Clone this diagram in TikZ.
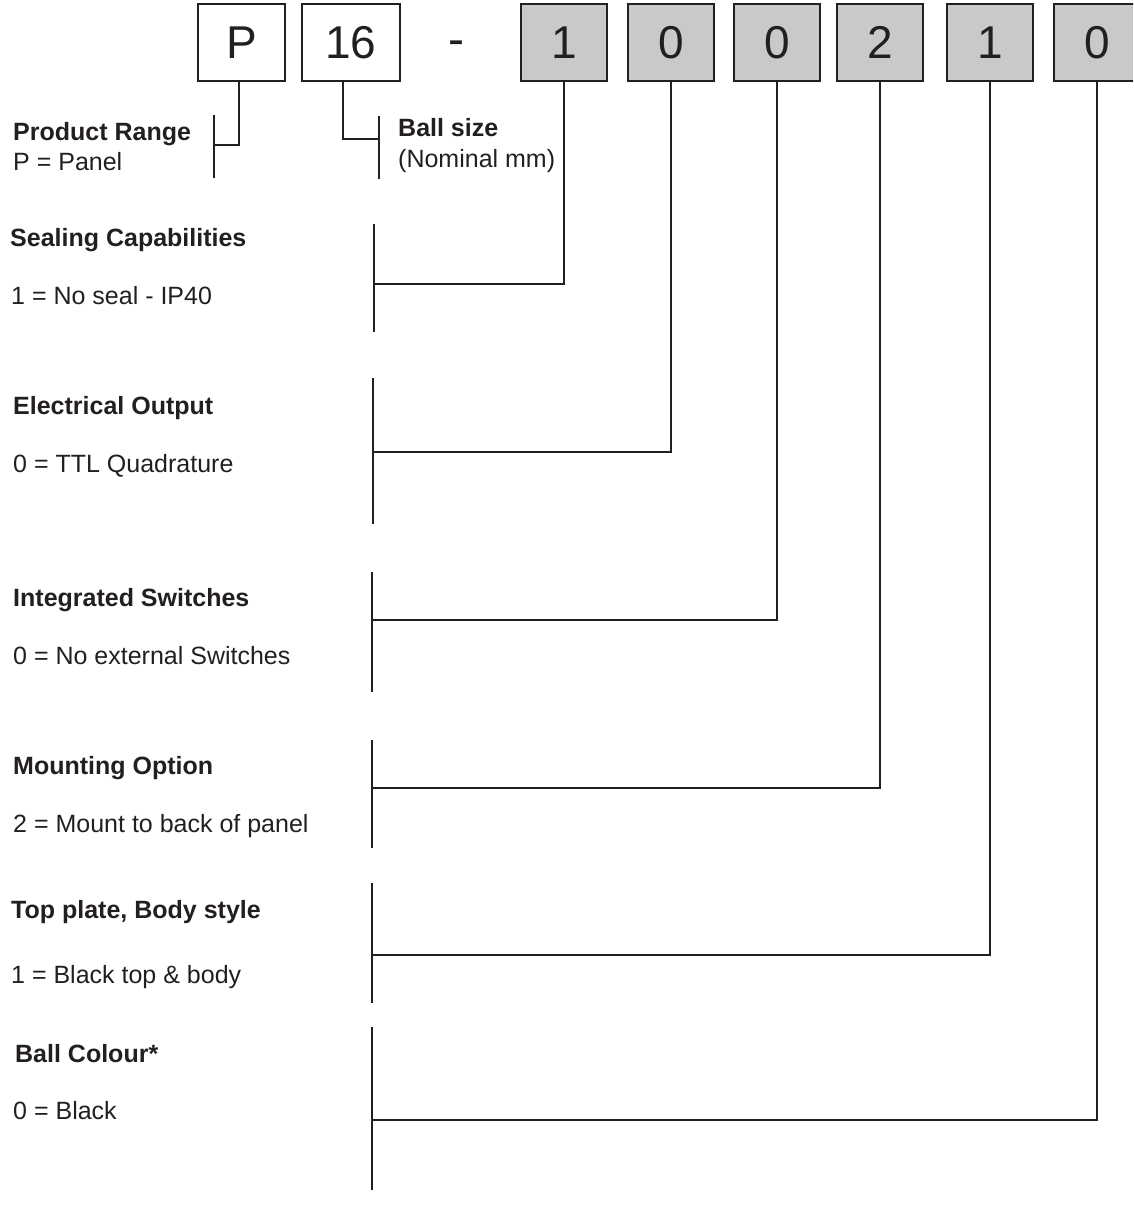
\documentclass[tikz,border=0pt]{standalone}
\usepackage{fontspec}
\setmainfont{Liberation Sans}
\definecolor{ink}{HTML}{231F20}
\definecolor{boxgray}{HTML}{C8C9CB}
\begin{document}
\begin{tikzpicture}[x=1pt,y=-1pt,
  codebox/.style={draw=ink,line width=2pt,minimum height=77pt,inner sep=0pt,
    font=\fontsize{46}{50}\selectfont,text=ink},
  whitebox/.style={codebox,fill=white},
  graybox/.style={codebox,fill=boxgray,minimum width=86pt},
  conn/.style={draw=ink,line width=1.8pt},
  bar/.style={draw=ink,line width=2.2pt},
  head/.style={anchor=base west,inner sep=0pt,font=\fontsize{25}{30}\selectfont\bfseries,text=ink},
  val/.style={anchor=base west,inner sep=0pt,font=\fontsize{25}{30}\selectfont,text=ink}]
\useasboundingbox (0,0) rectangle (1133,1218);
\begin{scope}
\clip (0,0) rectangle (1133,1218);
% code boxes
\node[whitebox,minimum width=87pt] (bp) at (241.5,42.5) {P};
\node[whitebox,minimum width=98pt] (b16) at (351,42.5) {16};
\node[anchor=base,inner sep=0pt,font=\fontsize{48}{50}\selectfont,text=ink] (dash) at (456,55) {-};
\node[graybox] (b1) at (564,42.5) {1};
\node[graybox] (b2) at (671,42.5) {0};
\node[graybox] (b3) at (777,42.5) {0};
\node[graybox] (b4) at (880,42.5) {2};
\node[graybox] (b5) at (990,42.5) {1};
\node[graybox] (b6) at (1097,42.5) {0};

% labels
\node[head] (hP) at (13,140) {Product Range};
\node[val]  (vP) at (13,170) {P = Panel};
\node[head] (hB) at (398,136) {Ball size};
\node[val]  (vB) at (398,167) {(Nominal mm)};
\node[head] (h1) at (10,246) {Sealing Capabilities};
\node[val]  (v1) at (11,304) {1 = No seal - IP40};
\node[head] (h2) at (13,414) {Electrical Output};
\node[val]  (v2) at (13,472) {0 = TTL Quadrature};
\node[head] (h3) at (13,606) {Integrated Switches};
\node[val]  (v3) at (13,664) {0 = No external Switches};
\node[head] (h4) at (13,774) {Mounting Option};
\node[val]  (v4) at (13,832) {2 = Mount to back of panel};
\node[head] (h5) at (11,918) {Top plate, Body style};
\node[val]  (v5) at (11,983) {1 = Black top \& body};
\node[head] (h6) at (15,1062) {Ball Colour*};
\node[val]  (v6) at (13,1119) {0 = Black};

% bar coordinates
\coordinate (tP) at (214,115); \coordinate (uP) at (214,178); \coordinate (jP) at (214,145);
\coordinate (t16) at (379,116); \coordinate (u16) at (379,179); \coordinate (j16) at (379,139);
\coordinate (t1) at (374,224); \coordinate (u1) at (374,332); \coordinate (j1) at (374,284);
\coordinate (t2) at (373,378); \coordinate (u2) at (373,524); \coordinate (j2) at (373,452);
\coordinate (t3) at (372,572); \coordinate (u3) at (372,692); \coordinate (j3) at (372,620);
\coordinate (t4) at (372,740); \coordinate (u4) at (372,848); \coordinate (j4) at (372,788);
\coordinate (t5) at (372,883); \coordinate (u5) at (372,1003); \coordinate (j5) at (372,955);
\coordinate (t6) at (372,1027); \coordinate (u6) at (372,1190); \coordinate (j6) at (372,1120);

% bars
\foreach \k in {P,16,1,2,3,4,5,6} \draw[bar] (t\k) -- (u\k);

% connectors
\draw[conn] ([xshift=-2.5pt]bp.south) |- (jP);
\draw[conn] ([xshift=-8pt]b16.south) |- (j16);
\foreach \k in {1,2,3,4,5,6} \draw[conn] (b\k.south) |- (j\k);
\end{scope}
\end{tikzpicture}
\end{document}
